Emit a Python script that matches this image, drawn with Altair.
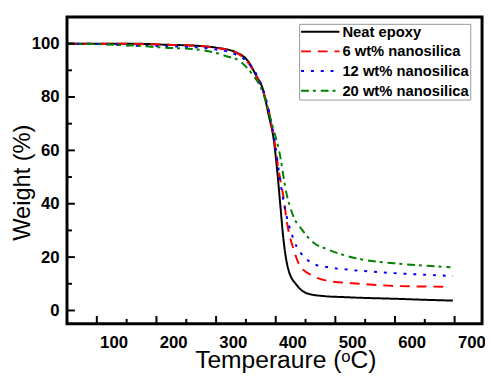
import altair as alt
import pandas as pd

series_names = ["Neat epoxy", "\u00a0\u00a06 wt% nanosilica", "12 wt% nanosilica", "20 wt% nanosilica"]
series_colors = ["#000000", "#FF0000", "#0000FF", "#008000"]
series_dashes = [[1, 0], [10, 7], [3, 7], [8, 4, 3, 5]]

neat_t = [50, 100, 158, 214, 268, 300, 334, 355, 367, 378, 388, 397, 403, 408, 413, 421, 436, 454, 480, 515, 550, 598, 650, 697]
neat_w = [100, 100, 100, 99.6, 99.2, 98.5, 96.7, 93, 88.1, 83.2, 73.4, 63.5, 51.2, 38.7, 26.6, 15.5, 9.3, 6.3, 5.4, 5.0, 4.7, 4.4, 4.0, 3.7]

s6_t = [50, 100, 158, 214, 268, 300, 334, 355, 372, 386, 397, 405, 413, 419, 430, 441, 463, 487, 543, 598, 640, 685]
s6_w = [100, 100, 99.9, 99.6, 99.2, 98.4, 96.5, 92.5, 85.6, 77, 64.6, 52.4, 42.4, 32.8, 22.9, 16.6, 12.9, 11.1, 10.0, 9.2, 9.0, 8.9]

s12_t = [50, 100, 158, 214, 268, 300, 334, 358, 378, 388, 398, 410, 415, 430, 452, 466, 482, 532, 598, 650, 697]
s12_w = [100, 99.9, 99.3, 99.0, 98.6, 97.8, 95.8, 91.8, 83.2, 75.6, 63.5, 45, 38.7, 26.6, 19.2, 17.2, 16.4, 15.1, 14.0, 13.4, 12.9]

s20_t = [50, 100, 158, 214, 268, 300, 322, 334, 358, 378, 394, 408, 416, 430, 444, 463, 487, 543, 598, 650, 693]
s20_w = [100, 99.8, 99.3, 98.5, 97.8, 96.5, 95.0, 94.2, 89.3, 81.9, 69.7, 57.2, 46.1, 35.1, 30.3, 25.5, 22.9, 19.2, 17.7, 16.8, 16.2]

x_major = [100, 200, 300, 400, 500, 600, 700]
x_minor = [150, 250, 350, 450, 550, 650]
y_major = [0, 20, 40, 60, 80, 100]
y_minor = [10, 30, 50, 70, 90]

rows = []
for name, ts, ws in zip(series_names, [neat_t, s6_t, s12_t, s20_t], [neat_w, s6_w, s12_w, s20_w]):
    for t, w in zip(ts, ws):
        rows.append({"series": name, "T": t, "W": w})
df = pd.DataFrame(rows)

W, H = 422, 312
xscale = alt.Scale(domain=[50, 746], nice=False, zero=False)
yscale = alt.Scale(domain=[-5, 110], nice=False, zero=False)

legend = alt.Legend(title=None, orient="none", legendX=236, legendY=7)

lines = alt.Chart(df).mark_line(strokeWidth=2, interpolate="monotone", clip=True).encode(
    x=alt.X("T:Q", scale=xscale,
            axis=alt.Axis(values=x_major, title="Temperaure (\u1d52C)", grid=False, ticks=False, tickSize=0,
                          domain=False, labelOffset=17, labelPadding=11, titleX=222, titleY=24,
                          titleBaseline="top", titleFontSize=25)),
    y=alt.Y("W:Q", scale=yscale,
            axis=alt.Axis(values=y_major, title="Weight (%)", grid=False, ticks=False, tickSize=0,
                          domain=False, labelPadding=8, titleX=-33, titleY=168)),
    color=alt.Color("series:N", scale=alt.Scale(domain=series_names, range=series_colors), legend=legend),
    strokeDash=alt.StrokeDash("series:N", scale=alt.Scale(domain=series_names, range=series_dashes), legend=legend),
    order="T:Q",
)

ymaj = alt.Chart(pd.DataFrame({"v": y_major})).mark_rule(color="black", strokeWidth=2).encode(
    y=alt.Y("v:Q", scale=yscale), x=alt.value(0), x2=alt.value(8))
ymin = alt.Chart(pd.DataFrame({"v": y_minor})).mark_rule(color="black", strokeWidth=2).encode(
    y=alt.Y("v:Q", scale=yscale), x=alt.value(0), x2=alt.value(5))
xmaj = alt.Chart(pd.DataFrame({"v": x_major})).mark_rule(color="black", strokeWidth=2).encode(
    x=alt.X("v:Q", scale=xscale), y=alt.value(H), y2=alt.value(H - 8))
xmin = alt.Chart(pd.DataFrame({"v": x_minor})).mark_rule(color="black", strokeWidth=2).encode(
    x=alt.X("v:Q", scale=xscale), y=alt.value(H), y2=alt.value(H - 5))

chart = alt.layer(lines, ymaj, ymin, xmaj, xmin).properties(
    width=W, height=H,
    autosize=alt.AutoSizeParams(type="none"),
    padding={"left": 60, "top": 6, "right": 3, "bottom": 53},
).configure_view(
    stroke="black", strokeWidth=3
).configure_axis(
    labelFont="Liberation Sans", labelFontWeight="bold", labelFontSize=17, labelColor="black",
    titleFont="Liberation Sans", titleFontWeight="normal", titleFontSize=24, titleColor="black",
).configure_legend(
    symbolType="stroke", symbolSize=1521, symbolStrokeWidth=2, clipHeight=14,
    labelFont="Liberation Sans", labelFontWeight="bold", labelFontSize=15, labelColor="black",
    padding=1, rowPadding=5, labelOffset=2, strokeColor="#999999", fillColor="white", cornerRadius=0,
)

chart.save("out.html", embed_options={"renderer": "svg", "actions": False})
